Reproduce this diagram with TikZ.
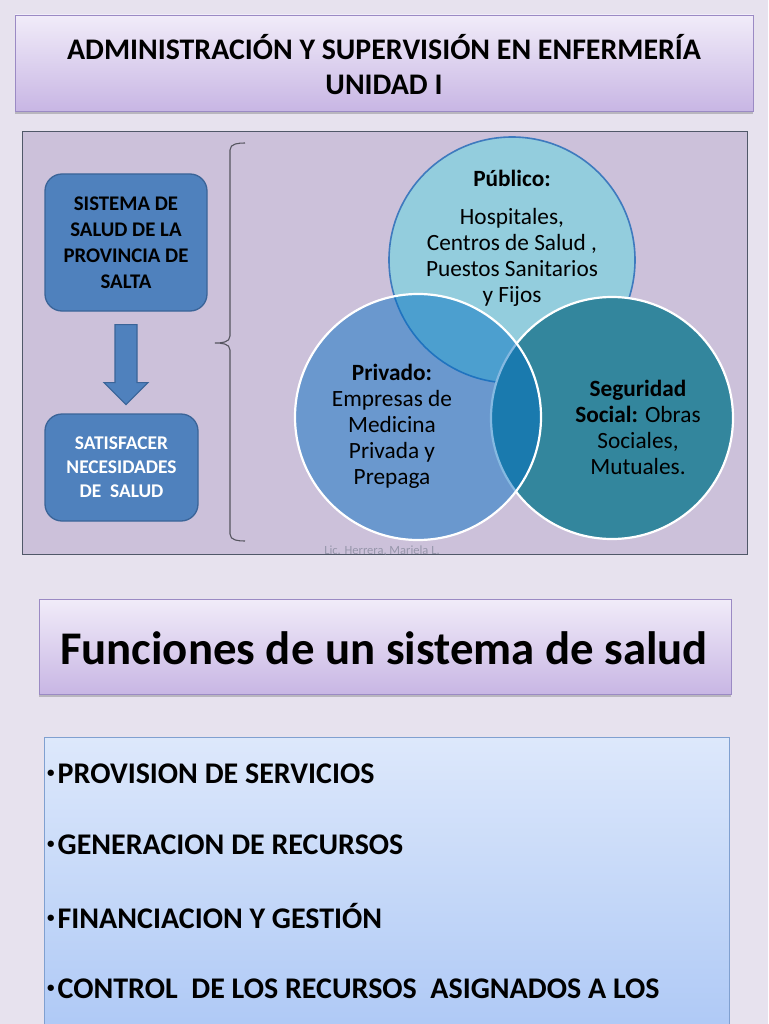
\documentclass[tikz,border=0pt]{standalone}
\usepackage{fontspec}
\usepackage{graphicx}
\setmainfont{Carlito}
\usetikzlibrary{shadows,calc}
\definecolor{bg}{RGB}{231,226,238}
\definecolor{panelfill}{RGB}{204,193,218}
\definecolor{panelborder}{RGB}{80,88,104}
\definecolor{boxblue}{RGB}{79,129,189}
\definecolor{boxborder}{RGB}{58,100,152}
\definecolor{titletop}{RGB}{241,236,249}
\definecolor{titlebot}{RGB}{200,182,228}
\definecolor{titleborder}{RGB}{155,138,196}
\definecolor{pubfill}{RGB}{147,205,221}
\definecolor{pubborder}{RGB}{62,122,190}
\definecolor{privfill}{RGB}{0,109,193}
\definecolor{segfill}{RGB}{51,134,157}
\definecolor{listtop}{RGB}{221,232,251}
\definecolor{listbot}{RGB}{167,196,245}
\definecolor{listborder}{RGB}{128,160,208}
\definecolor{brace}{RGB}{85,85,95}
\definecolor{wm}{RGB}{150,150,170}
\newcommand{\smallbullet}{\raisebox{0.2em}{\scalebox{0.5}{•}}\kern3pt}
\tikzset{
  headbox/.style={rectangle, inner sep=0pt, draw=titleborder, line width=0.8pt,
    top color=titletop, bottom color=titlebot,
    drop shadow={shadow xshift=0pt, shadow yshift=-3pt, opacity=0.35, fill=black!60}},
  listbox/.style={rectangle, inner sep=0pt, draw=listborder, line width=0.8pt,
    top color=listtop, bottom color=listbot,
    drop shadow={shadow xshift=0pt, shadow yshift=-3pt, opacity=0.3, fill=black!60}},
  bluebox/.style={rectangle, rounded corners=17pt, inner sep=0pt, fill=boxblue,
    draw=boxborder, line width=1.3pt},
  blockarrow/.style={fill=boxblue, draw=boxborder, line width=1.1pt, line join=miter},
  pubcircle/.style={circle, inner sep=0pt, minimum size=246pt, fill=pubfill, draw=pubborder, line width=1.6pt},
  segcircle/.style={circle, inner sep=0pt, minimum size=242pt, fill=segfill, draw=white, line width=2.2pt},
  privcircle/.style={circle, inner sep=0pt, minimum size=246pt, fill=privfill, fill opacity=0.48, draw=white, draw opacity=1, line width=2.2pt},
  circtext/.style={align=center, font=\fontsize{23.3}{26}\selectfont, text=black},
  listitem/.style={anchor=west, font=\fontsize{30}{34}\selectfont\bfseries, inner sep=0pt},
}
\begin{document}
\begin{tikzpicture}[x=1pt,y=-1pt]
\useasboundingbox (0,0) rectangle (768,1024);
\clip (0,0) rectangle (768,1024);
\fill[bg] (0,0) rectangle (768,1024);

% title
\node[headbox, minimum width=738pt, minimum height=96pt] (title) at (384,63) {};
\node[align=center, font=\fontsize{29.9}{35}\selectfont\bfseries] (titletext) at (384,65)
  {ADMINISTRACIÓN Y SUPERVISIÓN EN ENFERMERÍA\\UNIDAD I};

% panel
\node[rectangle, inner sep=0pt, fill=panelfill, draw=panelborder, line width=0.9pt,
  minimum width=725pt, minimum height=423pt] (panel) at (384.5,342.5) {};

% left boxes
\node[bluebox, minimum width=162pt, minimum height=137pt, align=center,
  font=\fontsize{20.8}{26}\selectfont\bfseries] (sis) at (126,242.5)
  {SISTEMA DE\\SALUD DE LA\\PROVINCIA DE\\SALTA};
\node[bluebox, minimum width=153pt, minimum height=107pt, align=center, text=white,
  font=\fontsize{19.4}{24}\selectfont\bfseries] (sat) at (121.5,467.5)
  {SATISFACER\\NECESIDADES\\DE\ \ SALUD};
\coordinate (a0) at ($(sis.south)+(0,13)$);
\draw[blockarrow] ($(a0)+(-11,0)$) -- ($(a0)+(11,0)$) -- ($(a0)+(11,58)$) -- ($(a0)+(22,58)$)
  -- ($(a0)+(0,80)$) -- ($(a0)+(-22,58)$) -- ($(a0)+(-11,58)$) -- cycle;

% brace
\coordinate (bt) at (245,143);
\coordinate (bm) at (215,343);
\coordinate (bb) at (245,541);
\draw[brace, line width=1.1pt] (bt) to[out=180,in=90] (230,150) -- (230,336)
  to[out=-90,in=0] (bm) to[out=0,in=90] (230,350) -- (230,534) to[out=-90,in=180] (bb);

% circles
\node[pubcircle] (pub) at (512,260) {};
\node[segcircle] (seg) at (612,418) {};
\node[privcircle] (priv) at (418,417) {};

\node[circtext] (pubtext) at (512,238)
  {\textbf{Público:}\\[12pt]Hospitales,\\Centros de Salud ,\\Puestos Sanitarios\\y Fijos};
\node[circtext] (privtext) at (392,426)
  {\textbf{Privado:}\\Empresas de\\Medicina\\Privada y\\Prepaga};
\node[circtext] (segtext) at (638,427)
  {\textbf{Seguridad}\\\textbf{Social:} Obras\\Sociales,\\Mutuales.};

% watermark
\begin{scope}
\clip (panel.north west) rectangle (panel.south east);
\node[text=wm, font=\fontsize{12.5}{13}\selectfont, anchor=base] (wmark) at (382,554) {Lic. Herrera, Mariela L.};
\end{scope}

% funciones
\node[headbox, minimum width=692pt, minimum height=95pt] (func) at (385,646.5) {};
\node[font=\fontsize{46.8}{52}\selectfont\bfseries] (functext) at (384,648) {Funciones de un sistema de salud};

% list
\node[listbox, minimum width=685pt, minimum height=340pt, anchor=north west] (list) at (44,737) {};
\node[listitem] (l1) at (47,774) {\smallbullet PROVISION DE SERVICIOS};
\node[listitem] (l2) at (47,845) {\smallbullet GENERACION DE RECURSOS};
\node[listitem] (l3) at (47,916) {\smallbullet FINANCIACION Y GESTIÓN};
\node[listitem] (l4) at (47,989) {\smallbullet CONTROL\ \ DE LOS RECURSOS\ \ ASIGNADOS A LOS};
\end{tikzpicture}
\end{document}
